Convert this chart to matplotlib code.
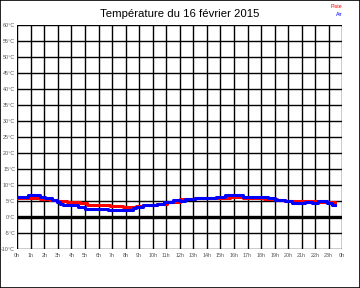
import matplotlib
matplotlib.use("Agg")
import matplotlib.pyplot as plt
from matplotlib.patches import Rectangle

# ── DATA ─────────────────────────────────────────────────────────────────────
# (heure de début du palier, température °C)
piste_h = [0.0, 1.68, 2.4, 2.91, 3.65, 4.63, 5.12, 6.85, 7.83, 8.8, 9.3, 10.3, 11.04,
           12.0, 13.1, 14.5, 15.7, 16.7, 18.2, 19.2, 19.8, 21.3, 22.24, 22.86, 23.47]
piste_t = [5.9, 5.6, 5.2, 5.0, 4.7, 4.4, 3.9, 3.5, 3.2, 3.5, 3.6, 4.2, 4.7,
           5.6, 6.0, 5.8, 6.2, 6.0, 5.7, 5.4, 5.1, 4.9, 4.8, 4.6, 4.4]

air_h = [0.0, 0.81, 1.68, 2.05, 2.54, 2.91, 3.15, 3.4, 4.5, 5.0, 6.72, 8.57, 8.8,
         9.3, 10.3, 10.8, 11.5, 12.0, 12.4, 13.1, 14.7, 15.35, 16.7, 18.55, 19.04,
         19.78, 20.27, 21.26, 21.75, 22.24, 22.86, 23.23, 23.47]
air_t = [6.4, 6.9, 6.4, 5.9, 5.4, 4.8, 4.2, 3.6, 3.1, 2.6, 2.3, 2.7, 3.1,
         3.6, 4.2, 4.7, 5.2, 5.1, 5.6, 5.9, 6.3, 6.75, 6.3, 5.8, 5.3,
         4.9, 4.5, 4.7, 4.5, 4.9, 4.3, 3.9, 3.9]

y_ticks = list(range(-10, 65, 5))
x_ticks = list(range(0, 25))
x_labels = [f"{h % 24}h" for h in x_ticks]
# ─────────────────────────────────────────────────────────────────────────────

plt.rcParams['font.family'] = ['Liberation Sans', 'DejaVu Sans']

fig = plt.figure(figsize=(3.6, 2.88), dpi=100)
ax = fig.add_axes([17.3 / 360, 1 - 249 / 288, 325 / 360, 224 / 288])

ax.set_xlim(0, 24)
ax.set_ylim(-10, 60)
ax.set_xticks(x_ticks)
ax.set_xticklabels(x_labels)
ax.set_yticks(y_ticks)
ax.set_yticklabels([f"{v}°C" for v in y_ticks])
ax.tick_params(length=0, labelsize=3.9, labelcolor="#555555")
ax.tick_params(axis="y", pad=1.5)
ax.tick_params(axis="x", pad=3)
ax.grid(True, color="black", linewidth=1.0)
for s in ax.spines.values():
    s.set_visible(False)

ax.axhline(0, color="black", linewidth=2.4, zorder=3)

ax.step(piste_h, piste_t, where="post", color="#ff0000", linewidth=2.2, zorder=4)
ax.step(air_h, air_t, where="post", color="#0000ff", linewidth=2.2, zorder=5)

fig.text(0.5, 1 - 14 / 288, "Température du 16 février 2015", ha="center",
         va="center", fontsize=8.2)
fig.text(342 / 360, 1 - 7 / 288, "Piste", ha="right", va="center",
         fontsize=3.8, color="#ff0000")
fig.text(342 / 360, 1 - 15 / 288, "Air", ha="right", va="center",
         fontsize=3.8, color="#0000ff")

fig.patches.append(Rectangle((0, 0), 1, 1, transform=fig.transFigure,
                             fill=False, edgecolor="black", linewidth=1.2))

fig.savefig("out.png", dpi=100)
